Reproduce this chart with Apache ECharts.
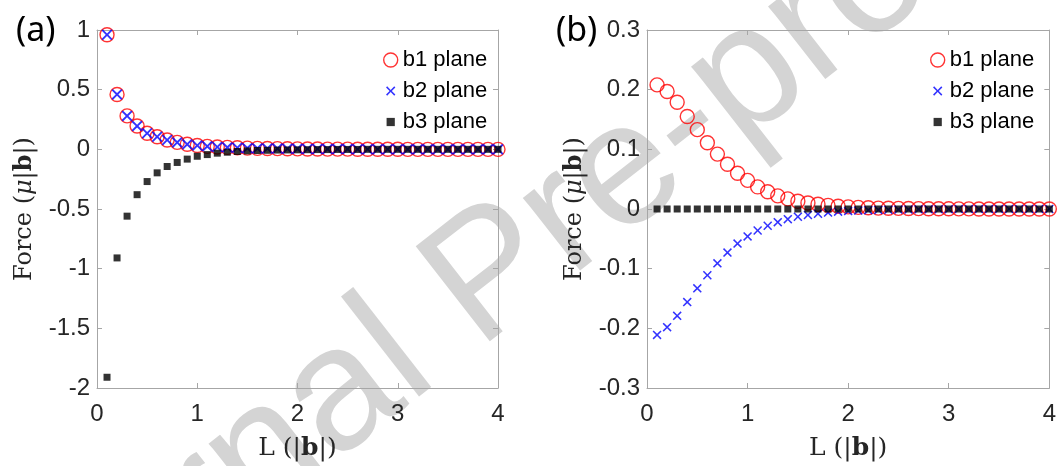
<!DOCTYPE html>
<html>
<head>
<meta charset="utf-8">
<script src="https://cdn.jsdelivr.net/npm/echarts@6/dist/echarts.min.js"></script>
<style>
  html, body { margin: 0; padding: 0; background: #fff; }
  #main { width: 1059px; height: 466px; }
</style>
</head>
<body>
<div id="main"></div>
<script>
// separation L, shared by both panels
var L = [0.1, 0.2, 0.3, 0.4, 0.5, 0.6, 0.7, 0.8, 0.9, 1.0,
         1.1, 1.2, 1.3, 1.4, 1.5, 1.6, 1.7, 1.8, 1.9, 2.0,
         2.1, 2.2, 2.3, 2.4, 2.5, 2.6, 2.7, 2.8, 2.9, 3.0,
         3.1, 3.2, 3.3, 3.4, 3.5, 3.6, 3.7, 3.8, 3.9, 4.0];

// panel (a)
var aB1 = [0.96, 0.46, 0.28, 0.195, 0.135, 0.105, 0.078, 0.058, 0.042, 0.032,
           0.025, 0.02, 0.016, 0.013, 0.01, 0.008, 0.007, 0.006, 0.005, 0.004,
           0.003, 0.003, 0.002, 0.002, 0.002, 0.001, 0.001, 0.001, 0.001, 0.001,
           0, 0, 0, 0, 0, 0, 0, 0, 0, 0];
var aB2 = [0.96, 0.46, 0.28, 0.195, 0.135, 0.105, 0.078, 0.058, 0.042, 0.032,
           0.025, 0.02, 0.016, 0.013, 0.01, 0.008, 0.007, 0.006, 0.005, 0.004,
           0.003, 0.003, 0.002, 0.002, 0.002, 0.001, 0.001, 0.001, 0.001, 0.001,
           0, 0, 0, 0, 0, 0, 0, 0, 0, 0];
var aB3 = [-1.91, -0.91, -0.56, -0.38, -0.27, -0.197, -0.144, -0.11, -0.082, -0.058,
           -0.044, -0.032, -0.024, -0.018, -0.013, -0.01, -0.008, -0.006, -0.005, -0.004,
           -0.003, -0.002, -0.002, -0.001, -0.001, -0.001, 0, 0, 0, 0,
           0, 0, 0, 0, 0, 0, 0, 0, 0, 0];

// panel (b)
var bB1 = [0.208, 0.197, 0.179, 0.155, 0.133, 0.111, 0.092, 0.075, 0.06, 0.048,
           0.037, 0.029, 0.022, 0.017, 0.013, 0.01, 0.008, 0.006, 0.0045, 0.0035,
           0.0027, 0.002, 0.0015, 0.0012, 0.001, 0.0008, 0.0006, 0.0005, 0.0004, 0.0003,
           0.0002, 0.0002, 0.0001, 0.0001, 0.0001, 0, 0, 0, 0, 0];
var bB2 = [-0.211, -0.198, -0.179, -0.156, -0.133, -0.111, -0.091, -0.073, -0.058, -0.046,
           -0.036, -0.028, -0.022, -0.017, -0.013, -0.01, -0.008, -0.006, -0.0045, -0.0035,
           -0.0027, -0.002, -0.0015, -0.0012, -0.001, -0.0008, -0.0006, -0.0005, -0.0004, -0.0003,
           -0.0002, -0.0002, -0.0001, -0.0001, -0.0001, 0, 0, 0, 0, 0];
var bB3 = [0, 0, 0, 0, 0, 0, 0, 0, 0, 0,
           0, 0, 0, 0, 0, 0, 0, 0, 0, 0,
           0, 0, 0, 0, 0, 0, 0, 0, 0, 0,
           0, 0, 0, 0, 0, 0, 0, 0, 0, 0];

var names = ['b1 plane', 'b2 plane', 'b3 plane'];

function pairs(ys) {
  return L.map(function (x, i) { return [x, ys[i]]; });
}

var crossPath = 'path://M0,1.2L1.2,0L5,3.8L8.8,0L10,1.2L6.2,5L10,8.8L8.8,10L5,6.2L1.2,10L0,8.8L3.8,5Z';
// legend icons: lone moveTo points pad the box so the marks draw smaller
var crossIcon = 'path://M-2.5,-2.5M12.5,12.5M0,1.2L1.2,0L5,3.8L8.8,0L10,1.2L6.2,5L10,8.8L8.8,10L5,6.2L1.2,10L0,8.8L3.8,5Z';
var squareIcon = 'path://M-3.5,-3.5M13.5,13.5M0,0L10,0L10,10L0,10Z';
var frame = '#a6a6a6';
var tickFont = { color: '#262626', fontSize: 24, fontFamily: 'Liberation Sans, Arial, sans-serif' };
var serif = 'DejaVu Serif, serif';

function xAx(g, pos) {
  var main = pos === 'bottom';
  return {
    type: 'value', gridIndex: g, position: pos, min: 0, max: 4, interval: 1,
    axisLine: { show: true, onZero: false, lineStyle: { color: frame, width: 1 } },
    axisTick: { show: true, inside: true, length: 5, lineStyle: { color: frame } },
    axisLabel: main ? Object.assign({ margin: 14 }, tickFont) : { show: false },
    splitLine: { show: false },
    name: main ? '{n|L (|}{b|b}{n||)}' : '',
    nameLocation: 'middle', nameGap: 48,
    nameTextStyle: {
      rich: {
        n: { fontFamily: serif, fontSize: 25, color: '#262626' },
        b: { fontFamily: serif, fontSize: 25, fontWeight: 'bold', color: '#262626' }
      }
    }
  };
}

function yAx(g, pos, mn, mx, step) {
  var main = pos === 'left';
  return {
    type: 'value', gridIndex: g, position: pos, min: mn, max: mx, interval: step,
    axisLine: { show: true, onZero: false, lineStyle: { color: frame, width: 1 } },
    axisTick: { show: true, inside: true, length: 5, lineStyle: { color: frame } },
    axisLabel: main ? Object.assign({ margin: 7 }, tickFont) : { show: false },
    splitLine: { show: false },
    name: main ? '{n|Force (}{m|μ}{n||}{b|b}{n||)}' : '',
    nameLocation: 'middle', nameGap: 60,
    nameTextStyle: {
      rich: {
        n: { fontFamily: serif, fontSize: 24, color: '#262626' },
        m: { fontFamily: serif, fontSize: 24, fontStyle: 'italic', color: '#262626' },
        b: { fontFamily: serif, fontSize: 24, fontWeight: 'bold', color: '#262626' }
      }
    }
  };
}

function panelSeries(g, b1, b2, b3, crossSize, sqSize) {
  return [
    {
      name: names[0], type: 'scatter', xAxisIndex: g * 2, yAxisIndex: g * 2,
      symbol: 'circle', symbolSize: 14,
      itemStyle: { color: 'rgba(0,0,0,0)', borderColor: '#ff0000', borderWidth: 1.4 },
      data: pairs(b1), z: 3
    },
    {
      name: names[1], type: 'scatter', xAxisIndex: g * 2, yAxisIndex: g * 2,
      symbol: crossPath, symbolSize: crossSize,
      itemStyle: { color: '#0000ff' },
      data: pairs(b2), z: 4
    },
    {
      name: names[2], type: 'scatter', xAxisIndex: g * 2, yAxisIndex: g * 2,
      symbol: 'rect', symbolSize: sqSize,
      itemStyle: { color: '#000000' },
      data: pairs(b3), z: 5
    }
  ];
}

var legendText = { fontSize: 22, color: '#000', fontFamily: 'Liberation Sans, Arial, sans-serif' };

function legendFor(g, left) {
  return {
    show: true, orient: 'vertical', left: left, top: 44,
    itemWidth: 14, itemHeight: 14, itemGap: 9,
    data: [
      { name: names[0], icon: 'circle', itemStyle: { color: 'rgba(0,0,0,0)', borderColor: '#ff0000', borderWidth: 1.4 } },
      { name: names[1], icon: crossIcon, itemStyle: { color: '#0000ff' } },
      { name: names[2], icon: squareIcon, itemStyle: { color: '#000' } }
    ],
    textStyle: legendText,
    selectedMode: false
  };
}

var chart = echarts.init(document.getElementById('main'));

var option = {
  animation: false,
  backgroundColor: '#ffffff',
  grid: [
    { left: 97, right: 561, top: 30, bottom: 76 },
    { left: 647, right: 6, top: 30, bottom: 76 }
  ],
  xAxis: [xAx(0, 'bottom'), xAx(0, 'top'), xAx(1, 'bottom'), xAx(1, 'top')],
  yAxis: [yAx(0, 'left', -2, 1, 0.5), yAx(0, 'right', -2, 1, 0.5),
          yAx(1, 'left', -0.3, 0.3, 0.1), yAx(1, 'right', -0.3, 0.3, 0.1)],
  legend: [legendFor(0, 378), legendFor(1, 925)],
  graphic: [
    {
      type: 'text', x: 491, y: 279, rotation: 38 * Math.PI / 180, z: -10,
      style: { text: 'Journal Pre-proof', fill: '#d4d4d4', fontSize: 175,
               fontFamily: 'Liberation Sans, Arial, sans-serif', align: 'center', verticalAlign: 'middle' }
    },
    { type: 'text', left: 16, top: 14, style: { text: '(a)', fontSize: 34, fill: '#000', fontFamily: 'Noto Sans, sans-serif' } },
    { type: 'text', left: 556, top: 14, style: { text: '(b)', fontSize: 34, fill: '#000', fontFamily: 'Noto Sans, sans-serif' } }
  ],
  series: panelSeries(0, aB1, aB2, aB3, 11, 7).concat(panelSeries(1, bB1, bB2, bB3, 9, 7))
};

chart.setOption(option);
</script>
</body>
</html>
